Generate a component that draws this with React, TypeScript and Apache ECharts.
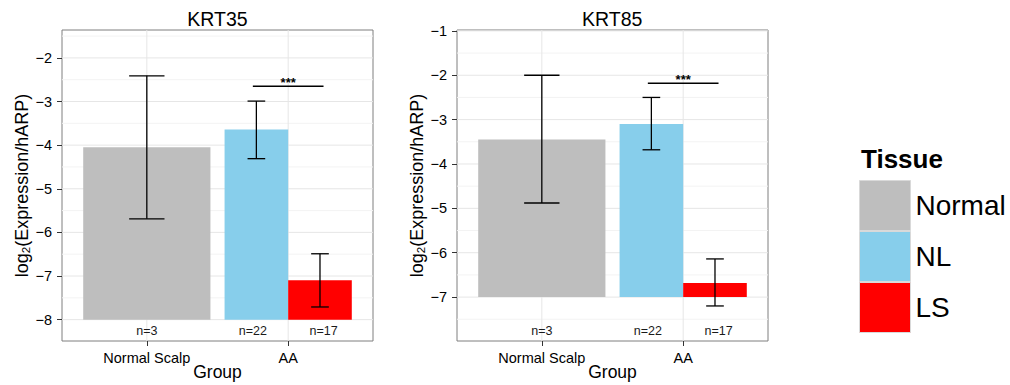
import React, { useEffect, useRef } from "react";
import * as echarts from "echarts";

// ---- data ----
const categories = ["Normal Scalp", "AA"];
const tissues = ["Normal", "NL", "LS"];
const tissueColors = ["#BEBEBE", "#87CEEB", "#FF0000"];
const tissueGroup = [0, 1, 1]; // index into categories
const nLabels = ["n=3", "n=22", "n=17"];
const sigLabel = "***";

const krt35Mean = [-4.05, -3.64, -7.1];
const krt35Upper = [-2.41, -2.99, -6.49];
const krt35Lower = [-5.69, -4.31, -7.71];
const krt35Base = -8;
const krt35Ticks = [-8, -7, -6, -5, -4, -3, -2];
const krt35Range = [-8.49, -1.36];
const krt35SigY = -2.65;

const krt85Mean = [-3.45, -3.1, -6.68];
const krt85Upper = [-2.0, -2.5, -6.14];
const krt85Lower = [-4.88, -3.68, -7.2];
const krt85Base = -7;
const krt85Ticks = [-7, -6, -5, -4, -3, -2, -1];
const krt85Range = [-7.99, -0.98];
const krt85SigY = -2.18;

const FONT = "'Liberation Sans', Arial, Helvetica, sans-serif";

function dodgeInfo(i: number) {
  const g = tissueGroup[i];
  const members = tissueGroup.map((gg, k) => (gg === g ? k : -1)).filter((k) => k >= 0);
  const count = members.length;
  const k = members.indexOf(i);
  const rel = k - (count - 1) / 2;
  const barW = 0.9 / count;
  return {
    barX: g + 1 + rel * barW,
    barW,
    textX: g + 1 + rel * (1 / count),
    whisker: 0.25 / count,
  };
}

function panelSeries(p: number, mean: number[], upper: number[], lower: number[], base: number, ticks: number[], range: number[], sigY: number) {
  const series: any[] = [];
  // grid lines
  const gridData: any[] = [];
  for (let v = Math.ceil(range[0] * 2) / 2; v <= range[1]; v += 0.5) {
    const major = ticks.indexOf(v) >= 0;
    gridData.push([1, v, major ? 0 : 1]);
  }
  categories.forEach((_, i) => gridData.push([i + 1, (range[0] + range[1]) / 2, 2]));
  series.push({
    type: "custom",
    xAxisIndex: p,
    yAxisIndex: p,
    z: 1,
    silent: true,
    data: gridData,
    renderItem: (params: any, api: any) => {
      const cs = params.coordSys;
      const kind = api.value(2);
      if (kind === 2) {
        const x = api.coord([api.value(0), api.value(1)])[0];
        return {
          type: "line",
          shape: { x1: x, y1: cs.y, x2: x, y2: cs.y + cs.height },
          style: { stroke: "#E6E6E6", lineWidth: 1 },
        };
      }
      const y = api.coord([api.value(0), api.value(1)])[1];
      return {
        type: "line",
        shape: { x1: cs.x, y1: y, x2: cs.x + cs.width, y2: y },
        style: { stroke: kind === 0 ? "#E6E6E6" : "#F3F3F3", lineWidth: 1 },
      };
    },
  });
  // bars
  tissues.forEach((t, i) => {
    const d = dodgeInfo(i);
    series.push({
      type: "custom",
      name: t,
      xAxisIndex: p,
      yAxisIndex: p,
      z: 2,
      itemStyle: { color: tissueColors[i] },
      data: [[d.barX, mean[i], d.barW]],
      renderItem: (params: any, api: any) => {
        const x = api.value(0);
        const w = api.value(2);
        const tl = api.coord([x - w / 2, api.value(1)]);
        const br = api.coord([x + w / 2, base]);
        return {
          type: "rect",
          shape: { x: tl[0], y: tl[1], width: br[0] - tl[0], height: br[1] - tl[1] },
          style: { fill: tissueColors[i] },
        };
      },
    });
  });
  // error bars
  series.push({
    type: "custom",
    xAxisIndex: p,
    yAxisIndex: p,
    z: 3,
    silent: true,
    data: tissues.map((_, i) => {
      const d = dodgeInfo(i);
      return [d.barX, lower[i], upper[i], d.whisker];
    }),
    renderItem: (params: any, api: any) => {
      const x = api.value(0);
      const w = api.value(3);
      const lo = api.coord([x, api.value(1)]);
      const hi = api.coord([x, api.value(2)]);
      const l = api.coord([x - w / 2, api.value(1)])[0];
      const r = api.coord([x + w / 2, api.value(1)])[0];
      const st = { stroke: "#000", lineWidth: 1.3 };
      return {
        type: "group",
        children: [
          { type: "line", shape: { x1: lo[0], y1: lo[1], x2: hi[0], y2: hi[1] }, style: st },
          { type: "line", shape: { x1: l, y1: lo[1], x2: r, y2: lo[1] }, style: st },
          { type: "line", shape: { x1: l, y1: hi[1], x2: r, y2: hi[1] }, style: st },
        ],
      };
    },
  });
  // n labels (at the bottom edge of the panel)
  series.push({
    type: "custom",
    xAxisIndex: p,
    yAxisIndex: p,
    z: 3,
    silent: true,
    data: tissues.map((_, i) => [dodgeInfo(i).textX, base, i]),
    renderItem: (params: any, api: any) => {
      const cs = params.coordSys;
      const c = api.coord([api.value(0), api.value(1)]);
      return {
        type: "text",
        x: c[0],
        y: cs.y + cs.height - 10.5,
        style: {
          text: nLabels[api.value(2)],
          align: "center",
          verticalAlign: "middle",
          fontSize: 12.5,
          fontFamily: FONT,
          fill: "#1a1a1a",
        },
      };
    },
  });
  // significance
  const nlX = dodgeInfo(1).textX;
  const lsX = dodgeInfo(2).textX;
  series.push({
    type: "custom",
    xAxisIndex: p,
    yAxisIndex: p,
    z: 3,
    silent: true,
    data: [[nlX, sigY, lsX]],
    renderItem: (params: any, api: any) => {
      const a = api.coord([api.value(0), api.value(1)]);
      const b = api.coord([api.value(2), api.value(1)]);
      return {
        type: "group",
        children: [
          { type: "line", shape: { x1: a[0], y1: a[1], x2: b[0], y2: b[1] }, style: { stroke: "#000", lineWidth: 1.6 } },
          {
            type: "text",
            x: (a[0] + b[0]) / 2,
            y: a[1] - 3.5,
            style: {
              text: sigLabel,
              align: "center",
              verticalAlign: "middle",
              fontSize: 13,
              fontWeight: "bold",
              fontFamily: FONT,
              fill: "#000",
            },
          },
        ],
      };
    },
  });
  return series;
}

function xAxisOpt(p: number) {
  return {
    type: "value",
    gridIndex: p,
    min: 0.4,
    max: 2.6,
    axisLine: { show: false },
    splitLine: { show: false },
    axisTick: { show: true, customValues: [1, 2], length: 5, lineStyle: { color: "#333", width: 1 } },
    axisLabel: {
      customValues: [1, 2],
      formatter: (v: number) => categories[Math.round(v) - 1] ?? "",
      fontSize: 14.5,
      color: "#000",
      margin: 9,
      fontFamily: FONT,
    },
    name: "Group",
    nameLocation: "middle",
    nameGap: 22,
    nameMoveOverlap: false,
    nameTextStyle: { fontSize: 17.5, color: "#000", fontFamily: FONT },
  };
}

function yAxisOpt(p: number, ticks: number[], range: number[]) {
  return {
    type: "value",
    gridIndex: p,
    min: range[0],
    max: range[1],
    axisLine: { show: false },
    splitLine: { show: false },
    axisTick: { show: true, customValues: ticks, length: 5, lineStyle: { color: "#333", width: 1 } },
    axisLabel: {
      customValues: ticks,
      formatter: (v: number) => String(v).replace("-", "\u2212"),
      fontSize: 14.5,
      color: "#000",
      margin: 10,
      fontFamily: FONT,
    },
    name: "{a|log}{s|2}{a|(Expression/hARP)}",
    nameLocation: "middle",
    nameRotate: 90,
    nameGap: 30,
    nameMoveOverlap: false,
    nameTextStyle: {
      fontFamily: FONT,
      color: "#000",
      rich: {
        a: { fontSize: 18, lineHeight: 21, fontFamily: FONT, color: "#000" },
        s: { fontSize: 11.5, lineHeight: 10, verticalAlign: "bottom", fontFamily: FONT, color: "#000" },
      },
    },
  };
}

export default function App() {
  const ref = useRef<HTMLDivElement>(null);
  useEffect(() => {
    document.body.style.margin = "0";
    if (!ref.current) return;
    const chart = echarts.init(ref.current, null, { renderer: "svg" });
    const gridBase = {
      show: true,
      backgroundColor: "#fff",
      borderColor: "#7F7F7F",
      borderWidth: 1,
      containLabel: false,
      outerBoundsMode: "none",
    };
    chart.setOption({
      animation: false,
      backgroundColor: "#fff",
      textStyle: { fontFamily: FONT },
      grid: [
        { ...gridBase, left: 62, top: 30, width: 311, height: 311 },
        { ...gridBase, left: 457, top: 30, width: 311, height: 311 },
      ],
      xAxis: [xAxisOpt(0), xAxisOpt(1)],
      yAxis: [yAxisOpt(0, krt35Ticks, krt35Range), yAxisOpt(1, krt85Ticks, krt85Range)],
      legend: {
        orient: "vertical",
        left: 859,
        top: 180,
        padding: 0,
        itemWidth: 51,
        itemHeight: 50,
        itemGap: 0,
        icon: "rect",
        selectedMode: false,
        textStyle: { fontSize: 28, color: "#000", fontFamily: FONT },
        data: tissues.map((t, i) => ({
          name: t,
          icon: "rect",
          itemStyle: { color: tissueColors[i], borderColor: "#D9D9D9", borderWidth: 1 },
        })),
      },
      graphic: [
        { type: "text", x: 217.5, y: 18.5, style: { text: "KRT35", align: "center", verticalAlign: "middle", fontSize: 19.5, fontFamily: FONT, fill: "#000" } },
        { type: "text", x: 612.2, y: 18.5, style: { text: "KRT85", align: "center", verticalAlign: "middle", fontSize: 19.5, fontFamily: FONT, fill: "#000" } },
        { type: "text", x: 861, y: 158.5, style: { text: "Tissue", align: "left", verticalAlign: "middle", fontSize: 26, fontWeight: "bold", fontFamily: FONT, fill: "#000" } },
      ],
      series: [
        ...panelSeries(0, krt35Mean, krt35Upper, krt35Lower, krt35Base, krt35Ticks, krt35Range, krt35SigY),
        ...panelSeries(1, krt85Mean, krt85Upper, krt85Lower, krt85Base, krt85Ticks, krt85Range, krt85SigY),
      ],
    });
    return () => chart.dispose();
  }, []);
  return <div ref={ref} style={{ width: 1010, height: 385 }} />;
}
